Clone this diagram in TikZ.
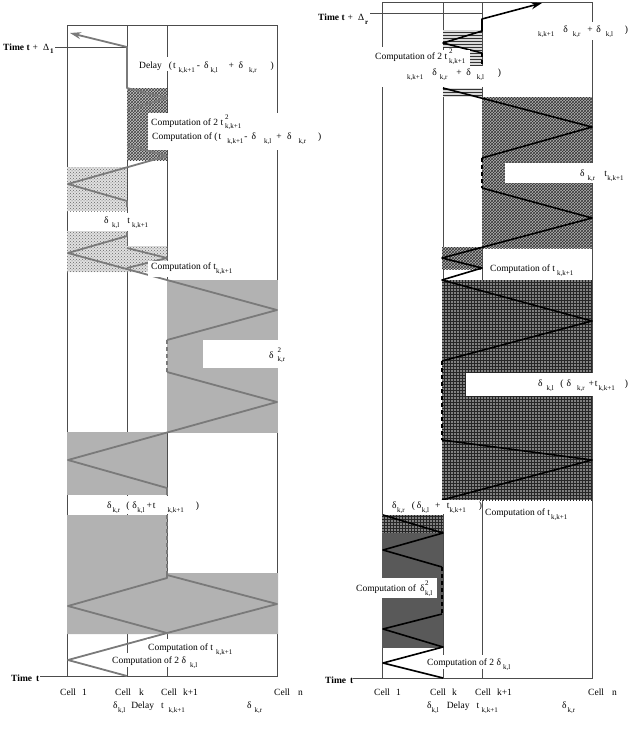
\documentclass[tikz,border=0pt]{standalone}
\usepackage{fontspec}
\setmainfont{Liberation Serif}
\usetikzlibrary{patterns,arrows.meta}
\newcommand{\sbx}[1]{\raisebox{-3.5pt}{\fontsize{7}{7}\selectfont #1}}
\newcommand{\spx}[1]{\raisebox{6pt}{\fontsize{7}{7}\selectfont #1}}
\newcommand{\ssx}[2]{\rlap{\spx{#1}}\sbx{#2}}
\begin{document}
\begin{tikzpicture}[x=1pt,y=-1pt,
  frame/.style={draw=black!70, line width=0.8pt},
  gwave/.style={draw=black!52, line width=1.8pt, line join=round},
  bwave/.style={draw=black, line width=1.6pt, line join=round},
  dashwave/.style={dash pattern=on 4pt off 3pt},
  lbl/.style={anchor=base west, inner sep=0pt, font=\fontsize{9.5}{11}\selectfont},
  solidgray/.style={fill=black!30},
  ltx/.style={fill=black!12, postaction={pattern=crosshatch dots, pattern color=black!60}},
  dkx/.style={fill=black!22, postaction={pattern=crosshatch, pattern color=black!75}},
  medx/.style={fill=black!30, postaction={pattern=crosshatch, pattern color=black!80}},
  grd/.style={fill=black!50, postaction={pattern=grid, pattern color=black!85}},
  hln/.style={fill=black!15, postaction={pattern=horizontal lines, pattern color=black!80}},
  wbox/.style={fill=white}
]
\useasboundingbox (0,0) rectangle (630,729);

% ---------------- LEFT PANEL ----------------
\draw[frame] (67,25) rectangle (277,676);
\draw[frame] (127,25) -- (127,676);
\draw[frame] (167,25) -- (167,676);
\draw[frame] (55,47) -- (127,47);
\draw[frame] (40,676) -- (67,676);

\path[solidgray] (167,280) rectangle (278,433);
\path[solidgray] (67,432) rectangle (167,495);
\path[solidgray] (67,515) -- (167,515) -- (167,573) -- (278,573) -- (278,634) -- (67,634) -- cycle;
\path[dkx] (127,88) rectangle (167,160);
\path[ltx] (67,167) rectangle (127,211);
\path[ltx] (67,231) -- (127,231) -- (127,246) -- (167,246) -- (167,272) -- (67,272) -- cycle;

\draw[gwave] (127,676) -- (68,660) -- (167,633) -- (68,606) -- (167,578) -- (167,575) -- (277,604) -- (167,633);
\draw[gwave,dashwave] (167,575) -- (167,515);
\draw[gwave] (167,495) -- (167,488) -- (68,460) -- (277,402) -- (167,372);
\draw[gwave,dashwave] (167,372) -- (167,340);
\draw[gwave] (167,340) -- (277,310) -- (68,253) -- (127,236) -- (127,232);
\draw[gwave] (127,248) -- (167,258) -- (127,268);
\draw[gwave] (127,207) -- (127,201) -- (68,184) -- (167,156) -- (127,145);
\draw[gwave,-{Stealth[length=11pt,width=7pt]}] (127,110) -- (167,98) -- (127,88) -- (127,47) -- (70,33);

\path[wbox] (135,57) rectangle (272,71);
\path[wbox] (148,113) rectangle (322,150);
\path[wbox] (100,213) rectangle (152,231);
\path[wbox] (148,261) rectangle (236,277);
\path[wbox] (203,340) rectangle (288,368);
\path[wbox] (100,496) rectangle (200,514);
\path[wbox] (147,639) rectangle (236,653);
\path[wbox] (110,653) rectangle (200,667);

\node[lbl] (lt1) at (3,50) {\textbf{Time t}\hspace{3pt}+\hspace{5pt}Δ\hspace{1pt}\sbx{\textbf{1}}};
\node[lbl] (lt2) at (139,68.5) {Delay\hspace{7pt}(\hspace{1pt}t\hspace{3pt}\sbx{k,k+1}\hspace{2pt}-\hspace{4pt}δ\hspace{2pt}\sbx{k,l}\hspace{11pt}+\hspace{4.5pt}δ\hspace{6pt}\sbx{k,r}\hspace{14pt})};
\node[lbl] (lt3) at (151,125) {Computation of 2 t\hspace{2pt}\ssx{2}{k,k+1}};
\node[lbl] (lt4) at (152,139.5) {Computation of (\hspace{1pt}t\hspace{6pt}\sbx{k,k+1}\hspace{1pt}-\hspace{4pt}δ\hspace{8pt}\sbx{k,l}\hspace{5pt}+\hspace{5.5pt}δ\hspace{7pt}\sbx{k,r}\hspace{12pt})};
\node[lbl] (lt5) at (104,223.5) {δ\hspace{3.5pt}\sbx{k,l}\hspace{8pt}t\hspace{2pt}\sbx{k,k+1}};
\node[lbl] (lt6) at (151,269.5) {Computation of t\sbx{k,k+1}};
\node[lbl] (lt7) at (269,358) {δ\hspace{4pt}\ssx{2}{k,r}};
\node[lbl] (lt8) at (107,508.5) {δ\hspace{1pt}\sbx{k,r}\hspace{6pt}(\hspace{3pt}δ\hspace{0.5pt}\sbx{k,l}\hspace{2pt}+\hspace{1pt}t\hspace{12pt}\sbx{k,k+1}\hspace{12pt})};
\node[lbl] (lt9) at (148,650.5) {Computation of t\hspace{3pt}\sbx{k,k+1}};
\node[lbl] (lt10) at (112,663.5) {Computation of 2 δ\hspace{4pt}\sbx{k,l}};
\node[lbl] (lt11) at (11,681) {\textbf{Time\hspace{4pt}t}};
\node[lbl] (lc1) at (60,695.5) {Cell\hspace{6pt}1};
\node[lbl] (lc2) at (115,695.5) {Cell\hspace{8pt}k};
\node[lbl] (lc3) at (161,695.5) {Cell\hspace{6pt}k+1};
\node[lbl] (lc4) at (274,695.5) {Cell\hspace{8pt}n};
\node[lbl] (ld1) at (113,708.5) {δ\hspace{0.5pt}\sbx{k,l}\hspace{6pt}Delay\hspace{7pt}t\hspace{5pt}\sbx{k,k+1}};
\node[lbl] (ld2) at (247,708.5) {δ\hspace{3pt}\sbx{k,r}};

% ---------------- RIGHT PANEL ----------------
\draw[frame] (382,2) rectangle (592,678);
\draw[frame] (443,2) -- (443,678);
\draw[frame] (482,2) -- (482,678);
\draw[frame] (370,13.5) -- (482,13.5);
\draw[frame] (353,678) -- (382,678);

\path[hln] (443,30) rectangle (482,47);
\path[hln] (470,47) rectangle (482,65);
\path[hln] (443,88) rectangle (482,97);
\path[medx] (482,97) rectangle (592,248);
\path[medx] (442,247) rectangle (482,269);
\path[grd] (442,280) rectangle (592,500);
\path[grd] (382,515) rectangle (443,533);
\path[fill=black!65] (382,533) rectangle (443,648);

\draw[bwave,-{Stealth[length=11pt,width=7pt]}] (482,53) -- (443,43) -- (482,31) -- (482,19) -- (542,3);
\draw[bwave,dashwave] (482,53) -- (482,65);
\draw[bwave] (443,88) -- (592,127) -- (482,158);
\draw[bwave,dashwave] (482,158) -- (482,188);
\draw[bwave] (482,188) -- (592,218) -- (442,258) -- (482,268) -- (442,280) -- (592,321) -- (442,361);
\draw[bwave,dashwave] (442,361) -- (442,440);
\draw[bwave] (442,440) -- (592,460) -- (442,500);
\draw[bwave] (383,515) -- (443,533) -- (383,550) -- (442,567);
\draw[bwave,dashwave] (442,567) -- (442,614);
\draw[bwave] (442,614) -- (383,629) -- (443,647) -- (383,663) -- (443,678);

\path[wbox] (373,47) rectangle (443,87);
\path[wbox] (443,50) rectangle (470,87);
\path[wbox] (470,66) rectangle (505,87);
\path[wbox] (535,22) rectangle (632,40);
\path[wbox] (505,163) rectangle (632,183);
\path[wbox] (466,373) rectangle (633,396);
\path[wbox] (388,500) rectangle (479,514);
\path[wbox] (355,578) rectangle (437,598);
\path[wbox] (427,655) rectangle (512,669);

\node[lbl] (rt1) at (318,20.5) {\textbf{Time t}\hspace{3pt}+\hspace{5pt}Δ\hspace{1pt}\sbx{\textbf{r}}};
\node[lbl] (rt2) at (538,32.5) {\sbx{k,k+1}\hspace{9pt}δ\hspace{5pt}\sbx{k,r}\hspace{7pt}+\hspace{3.5pt}δ\hspace{5pt}\sbx{k,l}\hspace{12pt})};
\node[lbl] (rt3) at (375,59.5) {Computation of 2 t\hspace{2pt}\ssx{2}{k,k+1}};
\node[lbl] (rt4) at (407,75.5) {\sbx{k,k+1}\hspace{9pt}δ\hspace{3pt}\sbx{k,r}\hspace{9pt}+\hspace{4.5pt}δ\hspace{6pt}\sbx{k,l}\hspace{14pt})};
\node[lbl] (rt5) at (580,176.5) {δ\hspace{3pt}\sbx{k,r}\hspace{9pt}t\hspace{0.5pt}\sbx{k,k+1}};
\node[lbl] (rt6) at (490,271.5) {Computation of t\hspace{2pt}\sbx{k,k+1}};
\node[lbl] (rt7) at (538,386.5) {δ\hspace{4pt}\sbx{k,l}\hspace{6.5pt}(\hspace{3pt}δ\hspace{6pt}\sbx{k,r}\hspace{4pt}+\hspace{1pt}t\hspace{1pt}\sbx{k,k+1}\hspace{10pt})};
\node[lbl] (rt8) at (392,508.5) {δ\hspace{0.5pt}\sbx{k,r}\hspace{7pt}(\hspace{2pt}δ\hspace{0.5pt}\sbx{k,l}\hspace{6pt}+\hspace{6.5pt}t\sbx{k,k+1}\hspace{13pt})};
\node[lbl] (rt9) at (485,515.5) {Computation of t\hspace{1pt}\sbx{k,k+1}};
\node[lbl] (rt10) at (356,591.5) {Computation of\hspace{4pt}δ\hspace{0.5pt}\ssx{2}{k,l}};
\node[lbl] (rt11) at (427,665.5) {Computation of 2 δ\hspace{2pt}\sbx{k,l}};
\node[lbl] (rt12) at (325,683) {\textbf{Time\hspace{4pt}t}};
\node[lbl] (rc1) at (374,695.5) {Cell\hspace{6pt}1};
\node[lbl] (rc2) at (430,695.5) {Cell\hspace{6pt}k};
\node[lbl] (rc3) at (475,695.5) {Cell\hspace{6pt}k+1};
\node[lbl] (rc4) at (588,695.5) {Cell\hspace{8pt}n};
\node[lbl] (rd1) at (427,708.5) {δ\sbx{k,l}\hspace{8pt}Delay\hspace{7pt}t\hspace{2.5pt}\sbx{k,k+1}};
\node[lbl] (rd2) at (562,708.5) {δ\hspace{1pt}\sbx{k,r}};
\end{tikzpicture}
\end{document}
